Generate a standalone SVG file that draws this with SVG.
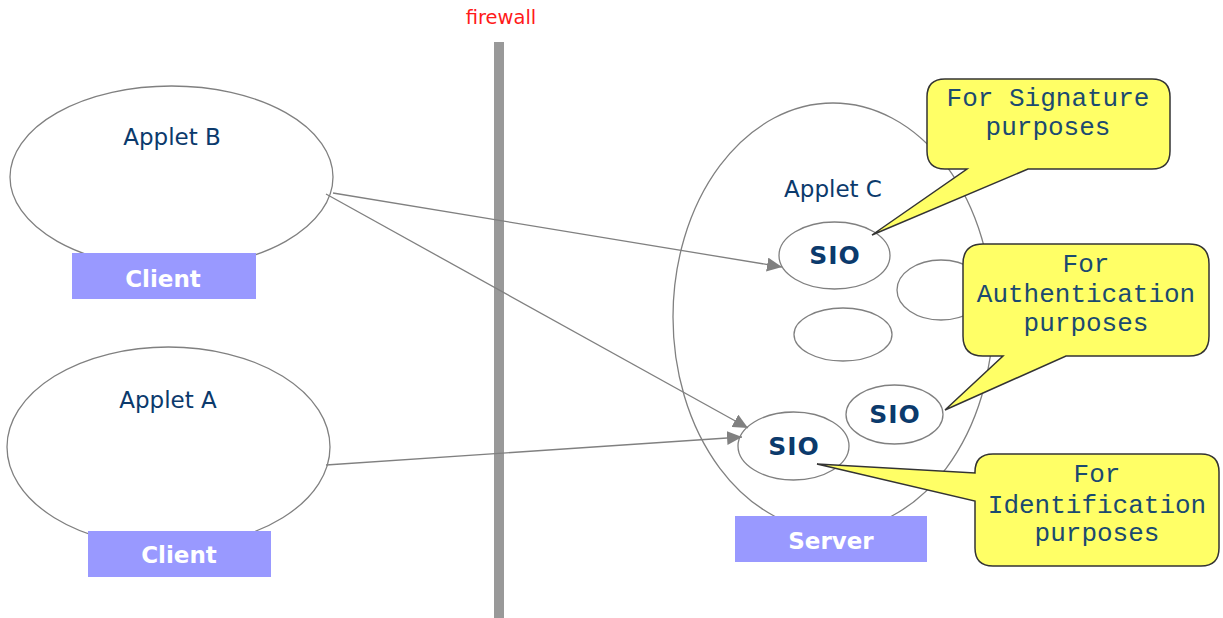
<svg xmlns="http://www.w3.org/2000/svg" width="1223" height="618" viewBox="0 0 1223 618">
<style>
.ell{fill:#fff;stroke:#808080;stroke-width:1.3}
.lbl{font-family:"DejaVu Sans",Verdana,sans-serif;font-size:23px;fill:#0b3a6c;text-anchor:middle}
.sio{font-family:"DejaVu Sans",Verdana,sans-serif;font-size:25px;font-weight:bold;fill:#0b3a6c;text-anchor:middle;letter-spacing:1px}
.tag{fill:#9999ff}
.tagt{font-family:"DejaVu Sans",Verdana,sans-serif;font-size:23px;font-weight:bold;fill:#fff;text-anchor:middle}
.call{fill:#ffff66;stroke:#333;stroke-width:1.5;stroke-linejoin:miter}
.ct{font-family:"Liberation Mono","Courier New",monospace;font-size:26px;fill:#1b4a70;text-anchor:middle}
.conn{stroke:#808080;stroke-width:1.3;fill:none;marker-end:url(#ah)}
</style>
<defs>
<marker id="ah" markerUnits="userSpaceOnUse" markerWidth="16" markerHeight="14" refX="15" refY="7" orient="auto">
<path d="M0,0 L15,7 L0,14 Z" fill="#808080"/>
</marker>
</defs>
<rect width="1223" height="618" fill="#fff"/>
<g id="firewall">
<rect x="494" y="42" width="10" height="576" fill="#999"/>
<text x="501" y="24" font-family="DejaVu Sans,Verdana,sans-serif" font-size="19.5" fill="#ff1a1a" text-anchor="middle">firewall</text>
</g>
<g id="appletB">
<ellipse class="ell" cx="171.5" cy="177" rx="161.5" ry="91"/>
<text class="lbl" x="172" y="145">Applet B</text>
<rect class="tag" x="72" y="253" width="184" height="46"/>
<text class="tagt" x="163" y="287">Client</text>
</g>
<g id="appletA">
<ellipse class="ell" cx="168.5" cy="447" rx="161.5" ry="100"/>
<text class="lbl" x="168" y="408">Applet A</text>
<rect class="tag" x="88" y="531" width="183" height="46"/>
<text class="tagt" x="179" y="563">Client</text>
</g>
<g id="appletC">
<ellipse class="ell" cx="833" cy="317" rx="160" ry="214"/>
<text class="lbl" x="833" y="197">Applet C</text>
<rect class="tag" x="735" y="516" width="192" height="46"/>
<text class="tagt" x="831" y="549">Server</text>
</g>
<g id="sio1">
<ellipse class="ell" cx="834.5" cy="255.5" rx="55.5" ry="33.5"/>
<text class="sio" x="835" y="264">SIO</text>
</g>
<g id="empty1">
<ellipse class="ell" cx="941" cy="290" rx="44" ry="30"/>
</g>
<g id="empty2">
<ellipse class="ell" cx="843" cy="334.5" rx="49" ry="26.5"/>
</g>
<g id="sio2">
<ellipse class="ell" cx="894.5" cy="414.5" rx="48.5" ry="29.5"/>
<text class="sio" x="895" y="423">SIO</text>
</g>
<g id="sio3">
<ellipse class="ell" cx="793.5" cy="446" rx="55.5" ry="34"/>
<text class="sio" x="794" y="455">SIO</text>
</g>
<g id="connectors">
<line class="conn" x1="333" y1="193" x2="782" y2="267"/>
<line class="conn" x1="326" y1="194" x2="748" y2="428"/>
<line class="conn" x1="326" y1="465" x2="742" y2="437"/>
</g>
<g id="callout-signature">
<path class="call" d="M945,79 H1152 Q1170,79 1170,97 V151 Q1170,169 1152,169 H1028 L872,235 L967,169 H945 Q927,169 927,151 V97 Q927,79 945,79 Z"/>
<text class="ct" x="1048" y="106">For Signature</text>
<text class="ct" x="1048" y="135">purposes</text>
</g>
<g id="callout-authentication">
<path class="call" d="M983,244 H1189 Q1209,244 1209,264 V336 Q1209,356 1189,356 H1066 L945,410 L1003,356 H983 Q963,356 963,336 V264 Q963,244 983,244 Z"/>
<text class="ct" x="1086" y="272">For</text>
<text class="ct" x="1086" y="302">Authentication</text>
<text class="ct" x="1086" y="331">purposes</text>
</g>
<g id="callout-identification">
<path class="call" d="M993,454 H1201 Q1219,454 1219,472 V548 Q1219,566 1201,566 H993 Q975,566 975,548 V501 L817,464 L975,473 V472 Q975,454 993,454 Z"/>
<text class="ct" x="1097" y="482">For</text>
<text class="ct" x="1097" y="513">Identification</text>
<text class="ct" x="1097" y="541">purposes</text>
</g>
</svg>
